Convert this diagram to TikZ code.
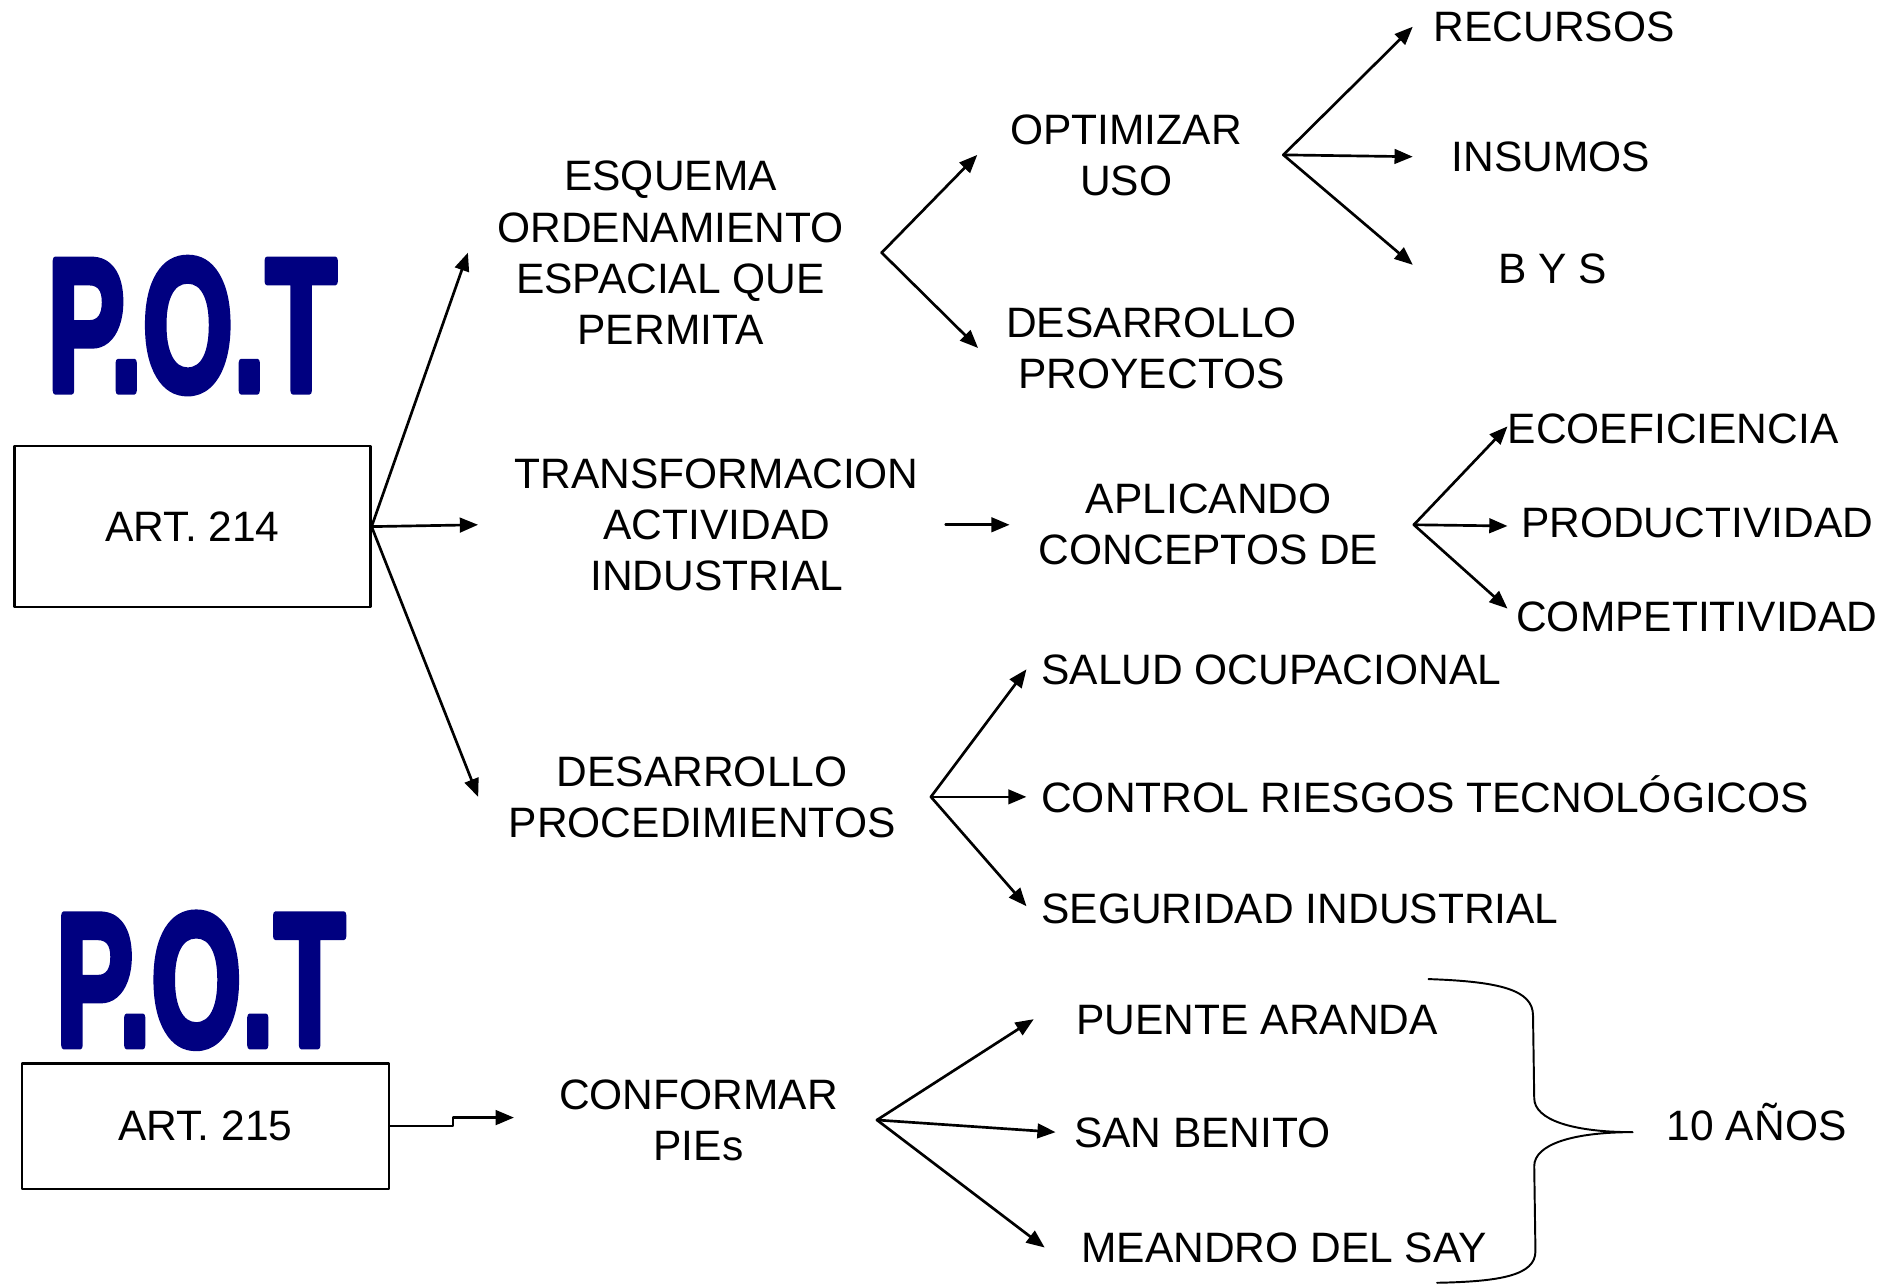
\documentclass[tikz,border=0pt]{standalone}
\usepackage{fontspec}
\setmainfont{Liberation Sans}
\newfontfamily\potfont{Liberation Sans}[UprightFont={* Bold}, UprightFeatures={FakeBold=4}]
\usepackage{graphicx}
\usepackage{xcolor}
\definecolor{navy}{RGB}{0,0,128}
\usetikzlibrary{arrows.meta}
\tikzset{
    lbl/.style = {inner sep=0pt, font=\fontsize{35}{42}\selectfont},
    word/.style = {lbl, anchor=west, text height=25pt, text depth=0pt},
    blk/.style = {lbl, align=center},
    artbox/.style = {draw, line width=1.8pt, inner sep=0pt, font=\fontsize{35}{42}\selectfont},
    pot/.style = {inner sep=0pt, text=navy, font=\potfont\fontsize{156}{156}\selectfont},
    arr/.style = {line width=2.2pt, -{Triangle[length=15pt,width=12pt]}}
}

\begin{document}
\begin{tikzpicture}[line cap=round, line join=round, x=1pt, y=-1pt]
\useasboundingbox (0,0) rectangle (1560,1057);

\node[pot] (pot1) at (158,268) {\scalebox{0.615}[1]{P.O.T}};
\node[artbox, minimum width=293pt, minimum height=133pt] (a214) at (158.5,433.5) {ART. 214};
\node[pot] (pot2) at (165,807) {\scalebox{0.615}[1]{P.O.T}};
\node[artbox, minimum width=302pt, minimum height=103pt] (a215) at (169,927) {ART. 215};

\node[blk] (esq) at (552,208) {ESQUEMA\\ORDENAMIENTO\\ESPACIAL QUE\\PERMITA};
\node[blk] (opt) at (927,127.5) {OPTIMIZAR\\USO};
\node[blk] (dproy) at (948,286.5) {DESARROLLO\\PROYECTOS};
\node[word] (rec) at (1180,22) {RECURSOS};
\node[word] (ins) at (1195,129) {INSUMOS};
\node[word] (bys) at (1233,221) {B Y S};

\node[blk] (trans) at (590,432) {TRANSFORMACION\\ACTIVIDAD\\INDUSTRIAL};
\node[blk] (apl) at (995,432) {APLICANDO\\CONCEPTOS DE};
\node[word] (eco) at (1241,353) {ECOEFICIENCIA};
\node[word] (prod) at (1252,430) {PRODUCTIVIDAD};
\node[word] (comp) at (1248,507) {COMPETITIVIDAD};

\node[blk] (dproc) at (578,656) {DESARROLLO\\PROCEDIMIENTOS};
\node[word] (salud) at (857,551) {SALUD OCUPACIONAL};
\node[word] (ctrl) at (857,656) {CONTROL RIESGOS TECNOLÓGICOS};
\node[word] (seg) at (857,748) {SEGURIDAD INDUSTRIAL};

\node[blk] (conf) at (575,922) {CONFORMAR\\PIEs};
\node[word] (pte) at (886,839) {PUENTE ARANDA};
\node[word] (sb) at (884,932) {SAN BENITO};
\node[word] (mea) at (890,1027) {MEANDRO DEL SAY};
\node[word] (anos) at (1372,926) {10 AÑOS};

% forks
\coordinate (fesq) at ([xshift=31pt]esq.east);
\coordinate (fopt) at ([xshift=34pt]opt.east);
\coordinate (fapl) at ([xshift=29pt]apl.east);
\coordinate (fproc) at ([xshift=29pt]dproc.east);
\coordinate (fconf) at ([xshift=32pt]conf.east);

\draw[arr] (a214.east) -- ([xshift=-24pt]esq.west);
\draw[arr] (a214.east) -- ([xshift=-30pt]trans.west);
\draw[arr] (a214.east) -- ([xshift=-25pt]dproc.west);

\draw[arr] (fesq) -- ([xshift=-27pt]opt.west);
\draw[arr] (fesq) -- ([xshift=-23pt]dproy.west);

\draw[arr] (fopt) -- ([xshift=-17pt]rec.west);
\draw[arr] (fopt) -- ([xshift=-32pt]ins.west);
\draw[arr] (fopt) -- ([shift={(-70pt,3pt)}]bys.west);

\draw[arr] ([xshift=22pt]trans.east) -- ([xshift=-24pt]apl.west);
\draw[arr] (fapl) -- ([shift={(0pt,2pt)}]eco.west);
\draw[arr] (fapl) -- ([shift={(-11pt,-3pt)}]prod.west);
\draw[arr] (fapl) -- ([shift={(-7pt,6pt)}]comp.west);

\draw[arr] (fproc) -- ([xshift=-12pt]salud.west);
\draw[arr] (fproc) -- ([xshift=-12pt]ctrl.west);
\draw[arr] (fproc) -- ([shift={(-12pt,2pt)}]seg.west);

\draw[arr] (a215.east) -- ++(52,0) |- ([shift={(-37pt,2pt)}]conf.west);
\draw[arr] (fconf) -- ([xshift=-35pt]pte.west);
\draw[arr] (fconf) -- ([xshift=-15pt]sb.west);
\draw[arr] (fconf) -- ([xshift=-30pt]mea.west);

% brace
\draw[line width=1.6pt] (1176,806) .. controls (1235,808) and (1262,815) .. (1262,836)
    -- (1263,904) .. controls (1263,922) and (1295,932) .. (1344,932)
    .. controls (1295,932) and (1263,942) .. (1263,960)
    -- (1264,1030) .. controls (1264,1050) and (1235,1055) .. (1183,1056);
\end{tikzpicture}
\end{document}
